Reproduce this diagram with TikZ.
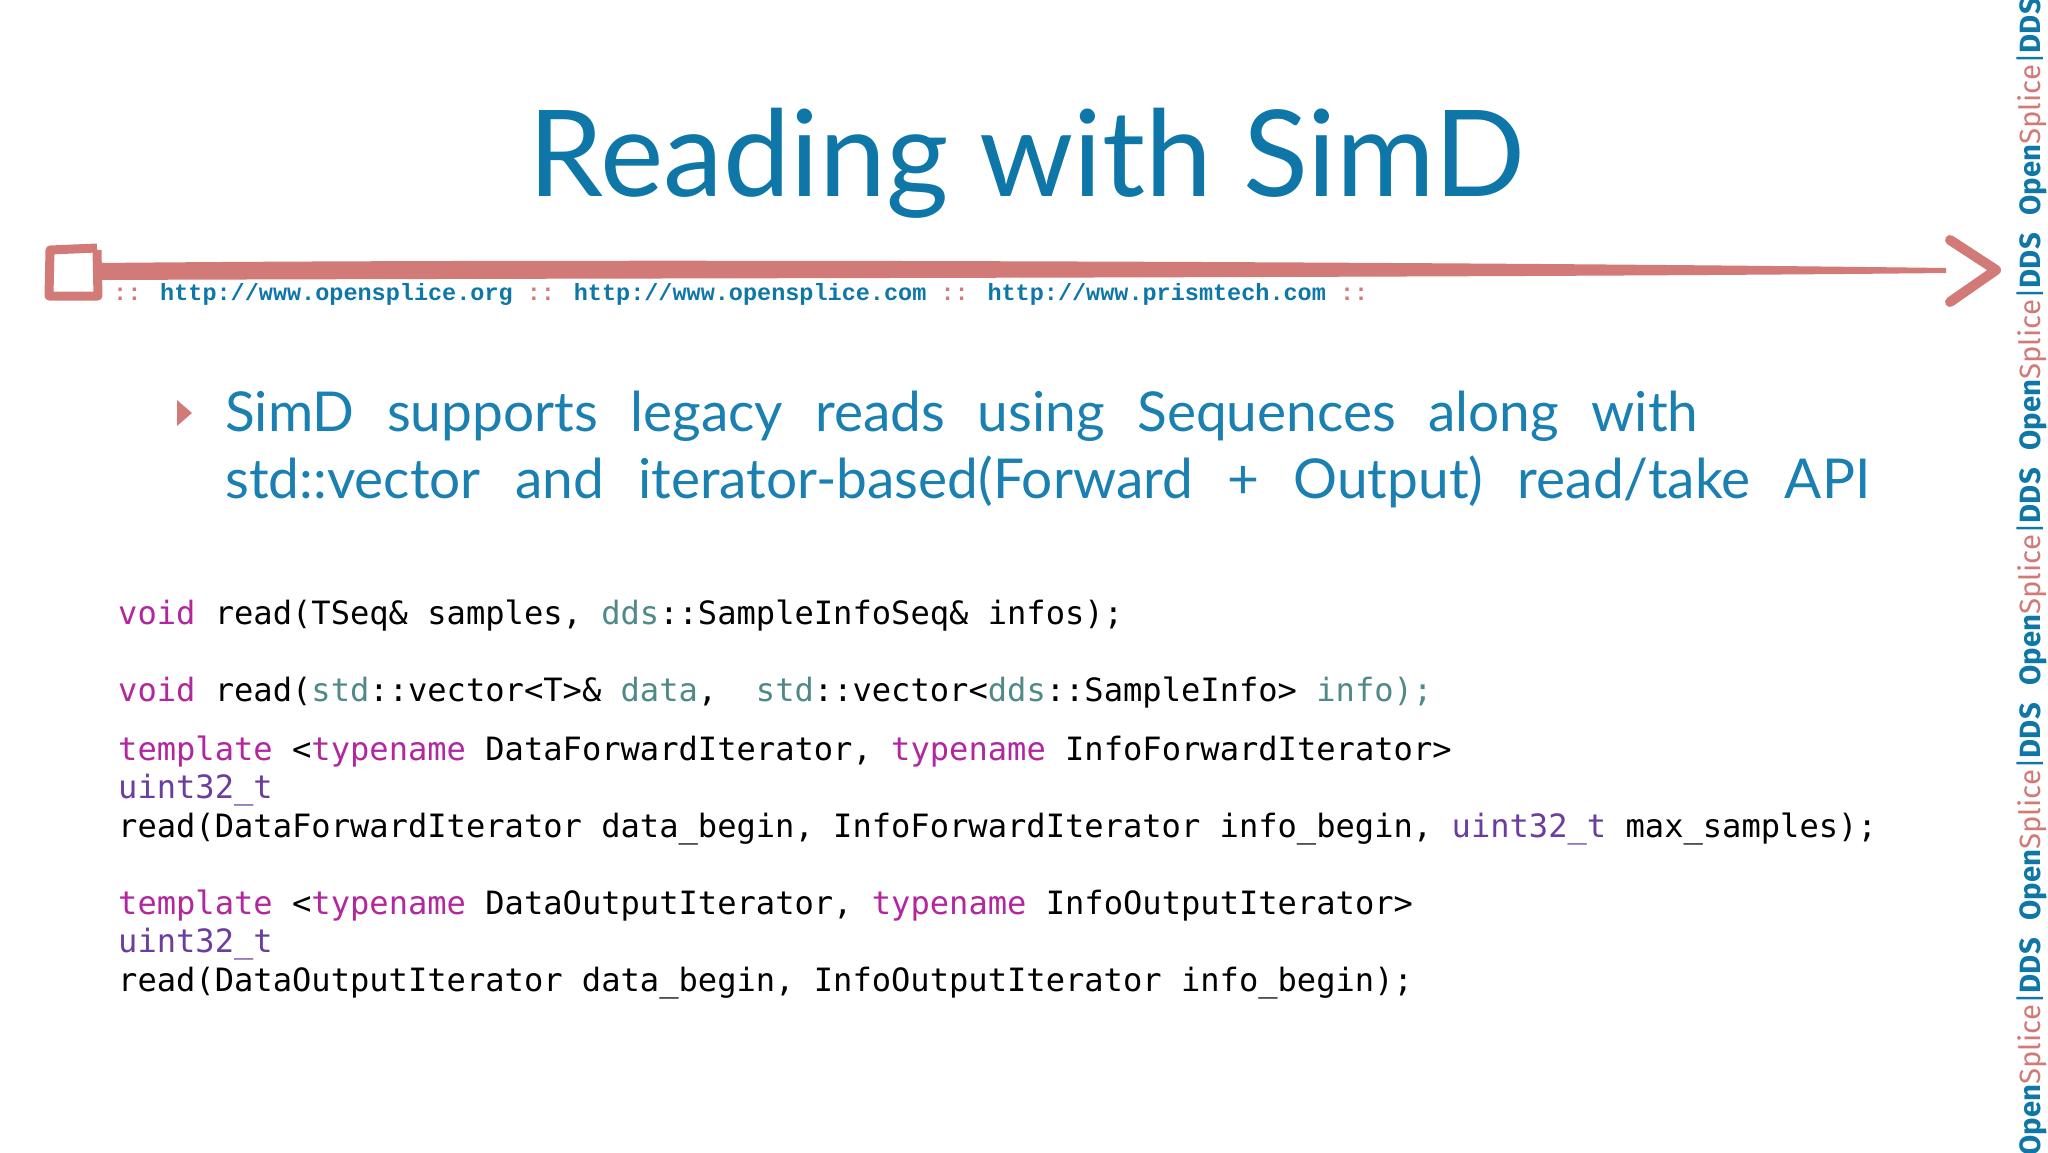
\documentclass[tikz,border=0pt]{standalone}
\usepackage{fontspec}
\setmainfont{Lato}
\setmonofont{DejaVu Sans Mono}
\newfontfamily\fira{Fira Sans}
\newfontfamily\cour{Liberation Mono}
\definecolor{ttl}{HTML}{0E77A8}
\definecolor{blt}{HTML}{1A80B2}
\definecolor{rd}{HTML}{D27A78}
\definecolor{kw}{HTML}{B3279E}
\definecolor{ty}{HTML}{6A3D9E}
\definecolor{ns}{HTML}{4F8A88}
\newcommand{\K}[1]{\textcolor{kw}{#1}}
\newcommand{\T}[1]{\textcolor{ty}{#1}}
\newcommand{\N}[1]{\textcolor{ns}{#1}}
\tikzset{code/.style={anchor=base west,inner sep=0,font=\fontsize{32.1}{38}\ttfamily},
 side/.style={anchor=east,rotate=90,inner sep=0,font=\fontsize{29.3}{32}\fira}}
\begin{document}
\begin{tikzpicture}[x=1pt,y=-1pt]
\useasboundingbox[fill=white] (0,0) rectangle (2048,1152);
% title
\node[anchor=base,inner sep=0,text=ttl,font=\fontsize{120}{126}\selectfont] (title) at (1027,196) {Reading with SimD};
% red line
\draw[rd,line width=9pt,line join=round] (97,248) -- (50,250) -- (49,296) -- (98,296) -- (97,250);
\fill[rd] (98,263) .. controls (600,258) and (1500,262) .. (1946,268) -- (1946,273) .. controls (1500,278) and (600,278) .. (98,280) -- cycle;
\draw[rd,line width=10pt,line cap=round,line join=round] (1950,240) -- (1996,270) -- (1950,302);
% urls
\node[anchor=base west,inner sep=0,font=\fontsize{23.5}{26}\cour\bfseries] (urls) at (113,300) {\textcolor{rd}{::} \textcolor{ttl}{http://www.opensplice.org} \textcolor{rd}{::} \textcolor{ttl}{http://www.opensplice.com} \textcolor{rd}{::} \textcolor{ttl}{http://www.prismtech.com} \textcolor{rd}{::}};
% bullet
\fill[rd] (177,400) -- (192,413) -- (177,426) -- cycle;
\node[anchor=base west,inner sep=0,text=blt,font=\fontsize{55}{60}\selectfont] (b1) at (225,431) {\makebox[1473pt][s]{SimD supports legacy reads using Sequences along with}};
\node[anchor=base west,inner sep=0,text=blt,font=\fontsize{55}{60}\selectfont] (b2) at (225,498) {\makebox[1645pt][s]{std::vector and iterator-based(Forward + Output) read/take API}};
% code
\node[code] (c1) at (118,624) {\K{void} read(TSeq\& samples, \N{dds}::SampleInfoSeq\& infos);};
\node[code] (c2) at (118,701) {\K{void} read(\N{std}::vector<T>\& \N{data},~~\N{std}::vector<\N{dds}::SampleInfo> \N{info);}};
\node[code] (c3) at (118,760) {\K{template} <\K{typename} DataForwardIterator, \K{typename} InfoForwardIterator>};
\node[code] (c4) at (118,798) {\T{uint32\_t}};
\node[code] (c5) at (118,837) {read(DataForwardIterator data\_begin, InfoForwardIterator info\_begin, \T{uint32\_t} max\_samples);};
\node[code] (c6) at (118,914) {\K{template} <\K{typename} DataOutputIterator, \K{typename} InfoOutputIterator>};
\node[code] (c7) at (118,952) {\T{uint32\_t}};
\node[code] (c8) at (118,991) {read(DataOutputIterator data\_begin, InfoOutputIterator info\_begin);};
% side strip
\foreach \i in {0,...,5} {
  \node[side] (s\i) at (2032,{-2+235*\i}) {\textcolor{ttl}{\bfseries Open}\textcolor{rd}{Splice}\textcolor{ttl}{|}\textcolor{ttl}{\bfseries DDS}};
}
\end{tikzpicture}
\end{document}
